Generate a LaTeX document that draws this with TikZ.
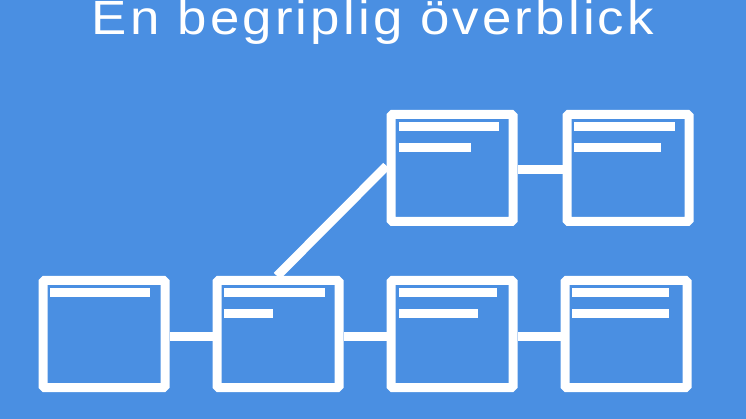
\documentclass[tikz,border=0pt]{standalone}
\usepackage{fontspec}
\setmainfont{Liberation Sans}
\newfontfamily\titlefont[LetterSpace=6]{Liberation Sans}
\definecolor{bgblue}{RGB}{74,143,226}
\begin{document}
\begin{tikzpicture}[x=1pt,y=-1pt,
  win/.style={draw=white, line width=9pt, rounded corners=1.5pt, minimum width=122pt, minimum height=107pt, inner sep=0pt},
  link/.style={draw=white, line width=9pt},
  bar/.style={draw=white, line width=9pt}]
\fill[bgblue] (0,0) rectangle (746,419);
\useasboundingbox (0,0) rectangle (746,419);
\node[anchor=base, text=white, font=\titlefont\fontsize{48}{52}\selectfont, inner sep=0pt] (title) at (373,35) {\scalebox{1.1}[1]{En begriplig överblick}};
% windows
\node[win] (A) at (104,334) {};
\node[win] (B) at (278,334) {};
\node[win] (C) at (452,334) {};
\node[win] (D) at (626,334) {};
\node[win] (E) at (452,168) {};
\node[win] (F) at (628,168) {};
% connectors
\draw[link] ([yshift=-2pt]A.east) -- ([yshift=-2pt]B.west);
\draw[link] ([yshift=-2pt]B.east) -- ([yshift=-2pt]C.west);
\draw[link] ([yshift=-2pt]C.east) -- ([yshift=-2pt]D.west);
\draw[link] ([yshift=-2pt]E.east) -- ([yshift=-2pt]F.west);
\draw[link] ([xshift=-1pt]B.north) -- ([yshift=2pt]E.west);
% bars
\draw[bar] ([shift={(11.5,16.5)}]A.north west) -- ++(100,0);
\draw[bar] ([shift={(11.5,16.5)}]B.north west) -- ++(101,0);
\draw[bar] ([shift={(11.5,37.5)}]B.north west) -- ++(49,0);
\draw[bar] ([shift={(12.5,16.5)}]C.north west) -- ++(98,0);
\draw[bar] ([shift={(12.5,37.5)}]C.north west) -- ++(79,0);
\draw[bar] ([shift={(11.5,16.5)}]D.north west) -- ++(97,0);
\draw[bar] ([shift={(11.5,37.5)}]D.north west) -- ++(97,0);
\draw[bar] ([shift={(12.5,16.5)}]E.north west) -- ++(100,0);
\draw[bar] ([shift={(12.5,37.5)}]E.north west) -- ++(72,0);
\draw[bar] ([shift={(11.5,16.5)}]F.north west) -- ++(101,0);
\draw[bar] ([shift={(11.5,37.5)}]F.north west) -- ++(87,0);
\end{tikzpicture}
\end{document}
